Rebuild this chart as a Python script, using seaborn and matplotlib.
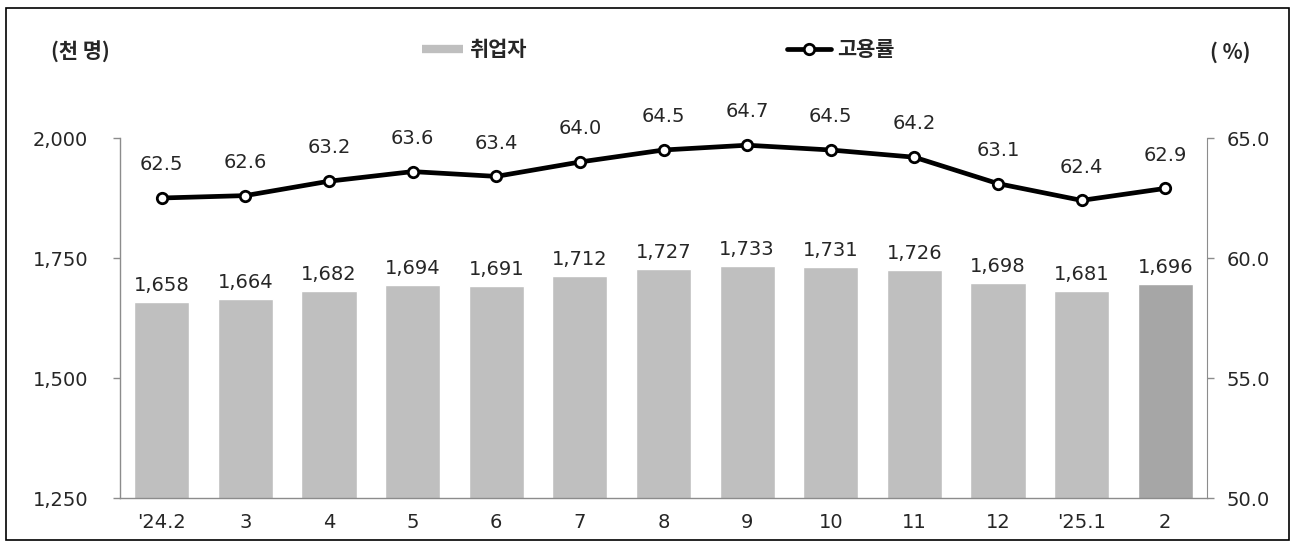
import numpy as np
import pandas as pd
import matplotlib
matplotlib.use("Agg")
import matplotlib.pyplot as plt
import seaborn as sns
from matplotlib.lines import Line2D
from matplotlib.patches import Rectangle

months = ["'24.2", "3", "4", "5", "6", "7", "8", "9", "10", "11", "12", "'25.1", "2"]
employed = [1658, 1664, 1682, 1694, 1691, 1712, 1727, 1733, 1731, 1726, 1698, 1681, 1696]
rate = [62.5, 62.6, 63.2, 63.6, 63.4, 64.0, 64.5, 64.7, 64.5, 64.2, 63.1, 62.4, 62.9]
left_ticks = [1250, 1500, 1750, 2000]
right_ticks = [50.0, 55.0, 60.0, 65.0]

sns.set_style("white")
plt.rcParams['font.family'] = ['Noto Sans CJK KR', 'DejaVu Sans']
NUM = ['DejaVu Sans', 'Noto Sans CJK KR']

df = pd.DataFrame({"month": months, "employed": employed, "rate": rate})
df["pos"] = np.arange(len(df))

bar_color = "#bfbfbf"
last_color = "#a6a6a6"
palette = {m: (last_color if i == len(months) - 1 else bar_color) for i, m in enumerate(months)}
gray = "#8c8c8c"

W, H = 1294, 546
fig = plt.figure(figsize=(W / 100, H / 100), dpi=100)
ax = fig.add_axes([120 / W, 48 / H, 1087 / W, 360 / H])

sns.barplot(data=df, x="month", y="employed", hue="month", palette=palette,
            width=0.66, saturation=1, legend=False, ax=ax, order=months, hue_order=months)
ax.set_ylim(1250, 2000)
ax.set_xlim(-0.5, len(months) - 0.5)
ax.set_xlabel("")
ax.set_ylabel("")
ax.set_yticks(left_ticks)
ax.set_yticklabels([f"{v:,}" for v in left_ticks], family=NUM, fontsize=14)
ax.set_xticks(np.arange(len(months)))
ax.set_xticklabels(months, family=NUM, fontsize=14)
ax.set_xticks(np.arange(-0.5, len(months), 1), minor=True)
ax.tick_params(axis="x", which="major", length=0, pad=11)
ax.tick_params(axis="x", which="minor", length=5, width=1, color=gray, direction="out")
ax.tick_params(axis="y", length=5, width=1, color=gray, direction="out", pad=18)
for s in ["top", "right"]:
    ax.spines[s].set_visible(False)
for s in ["left", "bottom"]:
    ax.spines[s].set_color(gray)
    ax.spines[s].set_linewidth(1)

for cont in ax.containers:
    vals = [b.get_height() for b in cont]
    ax.bar_label(cont, labels=[f"{v:,.0f}" for v in vals], padding=5, fontsize=14, family=NUM)

ax2 = ax.twinx()
sns.lineplot(data=df, x="pos", y="rate", ax=ax2, color="black", linewidth=3.4,
             marker="o", markersize=7.5, markerfacecolor="white",
             markeredgecolor="black", markeredgewidth=2)
ax2.set_ylim(50, 65)
ax2.set_xlim(-0.5, len(months) - 0.5)
ax2.set_yticks(right_ticks)
ax2.set_yticklabels([f"{v:.1f}" for v in right_ticks], family=NUM, fontsize=14)
ax2.set_ylabel("")
ax2.set_xlabel("")
ax2.tick_params(axis="y", length=5, width=1, color=gray, direction="out", pad=9)
for s in ["top", "left", "bottom"]:
    ax2.spines[s].set_visible(False)
ax2.spines["right"].set_color(gray)

for x, r in zip(df["pos"], df["rate"]):
    ax2.annotate(f"{r:.1f}", (x, r), xytext=(0, 24), textcoords="offset points",
                 ha="center", va="center", fontsize=14, family=NUM)

# legends
h1 = Line2D([0], [0], color=bar_color, linewidth=6, solid_capstyle="butt")
h2 = Line2D([0], [0], color="black", linewidth=3.4, marker="o", markersize=7.5,
            markerfacecolor="white", markeredgecolor="black", markeredgewidth=2)
leg1 = fig.legend(handles=[h1], labels=["취업자"], loc="center left",
                  bbox_to_anchor=(422 / W, 1 - 50 / H), frameon=False,
                  handlelength=1.95, handletextpad=0.3, borderpad=0, borderaxespad=0,
                  prop={"size": 15, "weight": "bold"})
leg2 = fig.legend(handles=[h2], labels=["고용률"], loc="center left",
                  bbox_to_anchor=(787 / W, 1 - 50 / H), frameon=False,
                  handlelength=2.1, handletextpad=0.3, borderpad=0, borderaxespad=0,
                  prop={"size": 15, "weight": "bold"})

fig.text(80 / W, 1 - 52 / H, "(천 명)", ha="center", va="center", fontsize=15, fontweight="bold")
fig.text(1230 / W, 1 - 52 / H, "( %)", ha="center", va="center", fontsize=15, fontweight="bold")

fig.add_artist(Rectangle((6 / W, 6 / H), (1289 - 6) / W, (538 - 6) / H,
                         transform=fig.transFigure, fill=False, edgecolor="black", linewidth=1.2))

fig.savefig("out.png", dpi=100)
